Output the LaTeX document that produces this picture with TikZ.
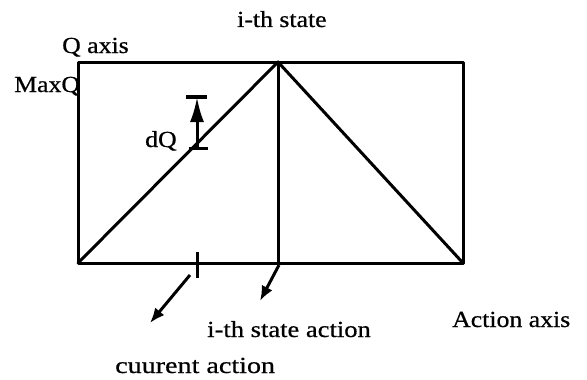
\documentclass[tikz,border=0pt]{standalone}
\usepackage{fontspec}
\setmainfont{Liberation Serif}[FakeStretch=1.12,FakeBold=0.6]
\usetikzlibrary{arrows.meta}
\begin{document}
\begin{tikzpicture}[x=1pt,y=-1pt,
  thickline/.style={line width=3pt,line cap=round,line join=round},
  lbl/.style={anchor=base west,inner sep=0pt,font=\fontsize{23}{26}\selectfont},
  smallarrow/.style={line width=3pt,-{Latex[length=15pt,width=12pt]}},
  bigarrow/.style={line width=3pt,-{Latex[length=25pt,width=14pt]}}]
\useasboundingbox[fill=white] (0,0) rectangle (587,380);
% axes / box
\coordinate (bl) at (78,263);
\coordinate (tl) at (78,62);
\coordinate (tr) at (463,62);
\coordinate (br) at (463,263);
\coordinate (apex) at (278,62);
\coordinate (base) at (278,263);
\draw[thickline] (bl) -- (tl) -- (tr) -- (br) -- cycle;
\draw[thickline] (bl) -- (apex) -- (br);
\draw[thickline] (apex) -- (base);
% dQ marker
\coordinate (dqb) at (197,148);
\coordinate (dqt) at (197,97);
\draw[line width=3pt] (189,148) -- (208,148);
\draw[line width=3.5pt] (186,97) -- (207,97);
\draw[bigarrow] (dqb) -- (dqt);
% tick on action axis
\coordinate (ticka) at (197,252);
\coordinate (tickb) at (197,278);
\draw[line width=3pt] (ticka) -- (tickb);
% arrows
\coordinate (a1s) at (190,275);
\coordinate (a1e) at (150,323);
\coordinate (a2s) at (279,265);
\coordinate (a2e) at (260,301);
\draw[smallarrow] (a1s) -- (a1e);
\draw[smallarrow] (a2s) -- (a2e);
% labels
\node[lbl] (ith) at (237,27) {i-th state};
\node[lbl] (qaxis) at (62,53) {Q axis};
\node[lbl] (maxq) at (14,92) {MaxQ};
\node[lbl] (dq) at (145,147) {dQ};
\node[lbl,xscale=1.03,transform shape] (isa) at (207,337) {i-th state action};
\node[lbl] (aaxis) at (452,327) {Action axis};
\node[lbl,xscale=1.09,transform shape] (cur) at (115,373) {cuurent action};
\end{tikzpicture}
\end{document}
